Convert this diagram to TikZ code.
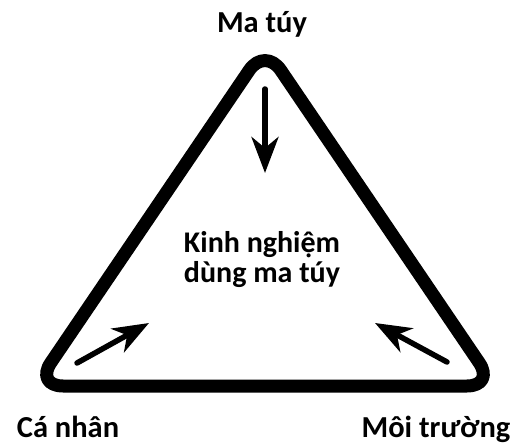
\documentclass[tikz,border=0pt]{standalone}
\usepackage{fontspec}
\setmainfont{Carlito}
\usetikzlibrary{arrows.meta}
\tikzset{
  lbl/.style={font=\bfseries\fontsize{30.5}{34}\selectfont, inner sep=0pt, anchor=base},
  ctr/.style={font=\bfseries\fontsize{30}{30}\selectfont, inner sep=0pt, align=center},
  tri/.style={line width=13pt, rounded corners=28pt, line join=round},
  flow/.style={line width=5.5pt, line cap=round, -{Stealth[length=36pt,width=27pt,inset=11pt]}}
}
\begin{document}
\begin{tikzpicture}[x=1pt,y=-1pt]
\useasboundingbox (0,0) rectangle (523,444);
\coordinate (apex) at (265,47);
\coordinate (bl) at (35,386);
\coordinate (br) at (495,386);
\draw[tri] (apex) -- (bl) -- (br) -- cycle;
\node[lbl] (top) at (262,33) {Ma túy};
\node[lbl] (left) at (68,437) {Cá nhân};
\node[lbl] (right) at (436,437) {Môi trường};
\node[ctr] (mid) at (262,260) {Kinh nghiệm\\dùng ma túy};
\coordinate (a1s) at (265,89);
\coordinate (a1e) at (265,173);
\coordinate (a2s) at (77,363);
\coordinate (a2e) at (149,323);
\coordinate (a3s) at (447,362);
\coordinate (a3e) at (375,323);
\draw[flow] (a1s) -- (a1e);
\draw[flow] (a2s) -- (a2e);
\draw[flow] (a3s) -- (a3e);
\end{tikzpicture}
\end{document}
